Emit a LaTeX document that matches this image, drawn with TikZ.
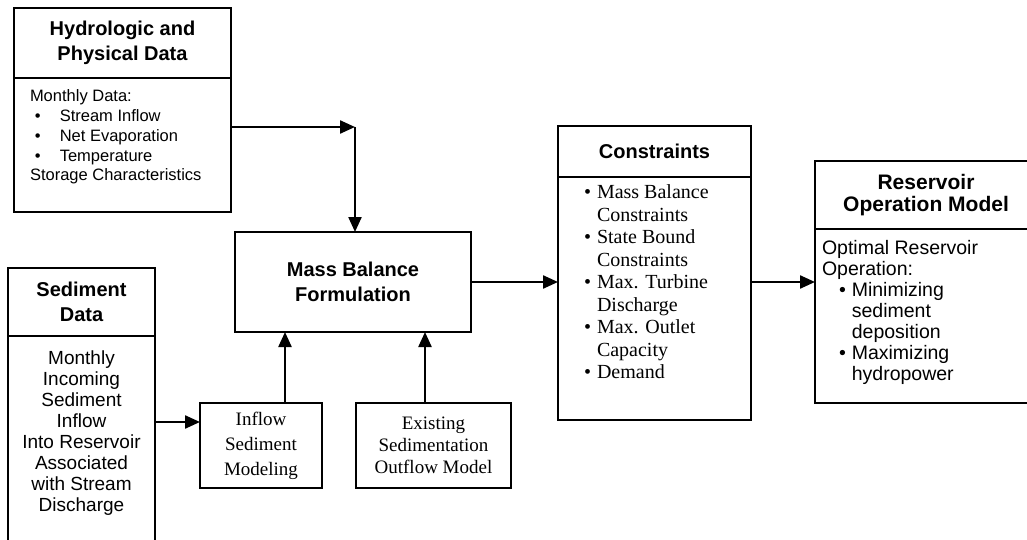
\documentclass[tikz,border=0pt]{standalone}
\usepackage{fontspec}
\setmainfont{Liberation Sans}
\newfontfamily\bookfont{Liberation Serif}
\usetikzlibrary{positioning,arrows.meta}

\tikzset{
  box/.style={draw, line width=2.3pt, inner sep=0pt, outer sep=0pt},
  head/.style={box, font=\fontsize{20}{25}\selectfont\bfseries, align=center},
  txt/.style={inner sep=0pt, outer sep=0pt},
  link/.style={line width=2.3pt, -{Triangle[length=15pt,width=13pt]}},
}
\newcommand{\bul}{\textbullet\hspace*{6pt}}
\newcommand{\ind}{\phantom{\textbullet}\hspace*{6pt}}

\begin{document}
\begin{tikzpicture}[x=1pt,y=1pt]
  \clip (0,0) rectangle (1027,539);

  % input data
  \node[head, minimum width=217, minimum height=70] (hydroH) at (122.5,496) {Hydrologic and\\Physical Data};
  \node[box, minimum width=217, minimum height=134, below=0pt of hydroH] (hydroB) {};
  \node[txt, align=left, font=\fontsize{16.5}{19.7}\selectfont, below right=12pt and 16pt of hydroB.north west] (hydroT)
    {Monthly Data:\\
     \hspace*{5pt}\textbullet\hspace*{19pt}Stream Inflow\\
     \hspace*{5pt}\textbullet\hspace*{19pt}Net Evaporation\\
     \hspace*{5pt}\textbullet\hspace*{19pt}Temperature\\
     Storage Characteristics};

  \node[head, minimum width=147, minimum height=68] (sedH) at (81.5,237) {Sediment\\Data};
  \node[box, minimum width=147, minimum height=215, below=0pt of sedH] (sedB) {};
  \node[txt, align=center, font=\fontsize{19}{21}\selectfont, below=15pt of sedB.north] (sedT)
    {Monthly\\Incoming\\Sediment\\Inflow\\Into Reservoir\\Associated\\with Stream\\Discharge};

  % models
  \node[head, minimum width=236, minimum height=100] (mass) at (353,257) {Mass Balance\\Formulation};
  \node[box, align=center, font=\bookfont\fontsize{19}{25}\selectfont, minimum width=122, minimum height=85] (inflow) at (261,93.5)
    {Inflow\\Sediment\\Modeling};
  \node[box, align=center, font=\bookfont\fontsize{19}{22}\selectfont, minimum width=155, minimum height=85] (outflow) at (433.5,93.5)
    {Existing\\Sedimentation\\Outflow Model};

  % constraints and operation
  \node[head, minimum width=193, minimum height=51] (consH) at (654.5,387.5) {Constraints};
  \node[box, minimum width=193, minimum height=243, below=0pt of consH] (consB) {};
  \node[txt, align=left, font=\bookfont\fontsize{20}{22.5}\selectfont, below right=8pt and 26pt of consB.north west] (consT)
    {\bul Mass Balance\\ \ind Constraints\\
     \bul State Bound\\ \ind Constraints\\
     \bul Max. Turbine\\ \ind Discharge\\
     \bul Max. Outlet\\ \ind Capacity\\
     \bul Demand};

  \node[head, font=\fontsize{21}{22}\selectfont\bfseries, minimum width=222, minimum height=68] (resH) at (926,344) {Reservoir\\Operation Model};
  \node[box, minimum width=222, minimum height=174, below=0pt of resH] (resB) {};
  \node[txt, align=left, font=\fontsize{19.5}{21}\selectfont, below right=11pt and 7pt of resB.north west] (resT)
    {Optimal Reservoir\\
     Operation:\\
     \hspace*{17pt}\bul Minimizing\\
     \hspace*{17pt}\ind sediment\\
     \hspace*{17pt}\ind deposition\\
     \hspace*{17pt}\bul Maximizing\\
     \hspace*{17pt}\ind hydropower};

  % flows
  \coordinate (bend) at (355,412);
  \draw[link] (hydroB.east |- bend) -- (bend);
  \draw[link] (bend) -- (bend |- mass.north);
  \draw[link] (sedB.east |- 0,117) -- (inflow.west |- 0,117);
  \draw[link] (inflow.north -| 285,0) -- (mass.south -| 285,0);
  \draw[link] (outflow.north -| 425,0) -- (mass.south -| 425,0);
  \draw[link] (mass.east) -- (mass.east -| consB.west);
  \draw[link] (consB.east |- mass.east) -- (resB.west |- mass.east);
\end{tikzpicture}
\end{document}
